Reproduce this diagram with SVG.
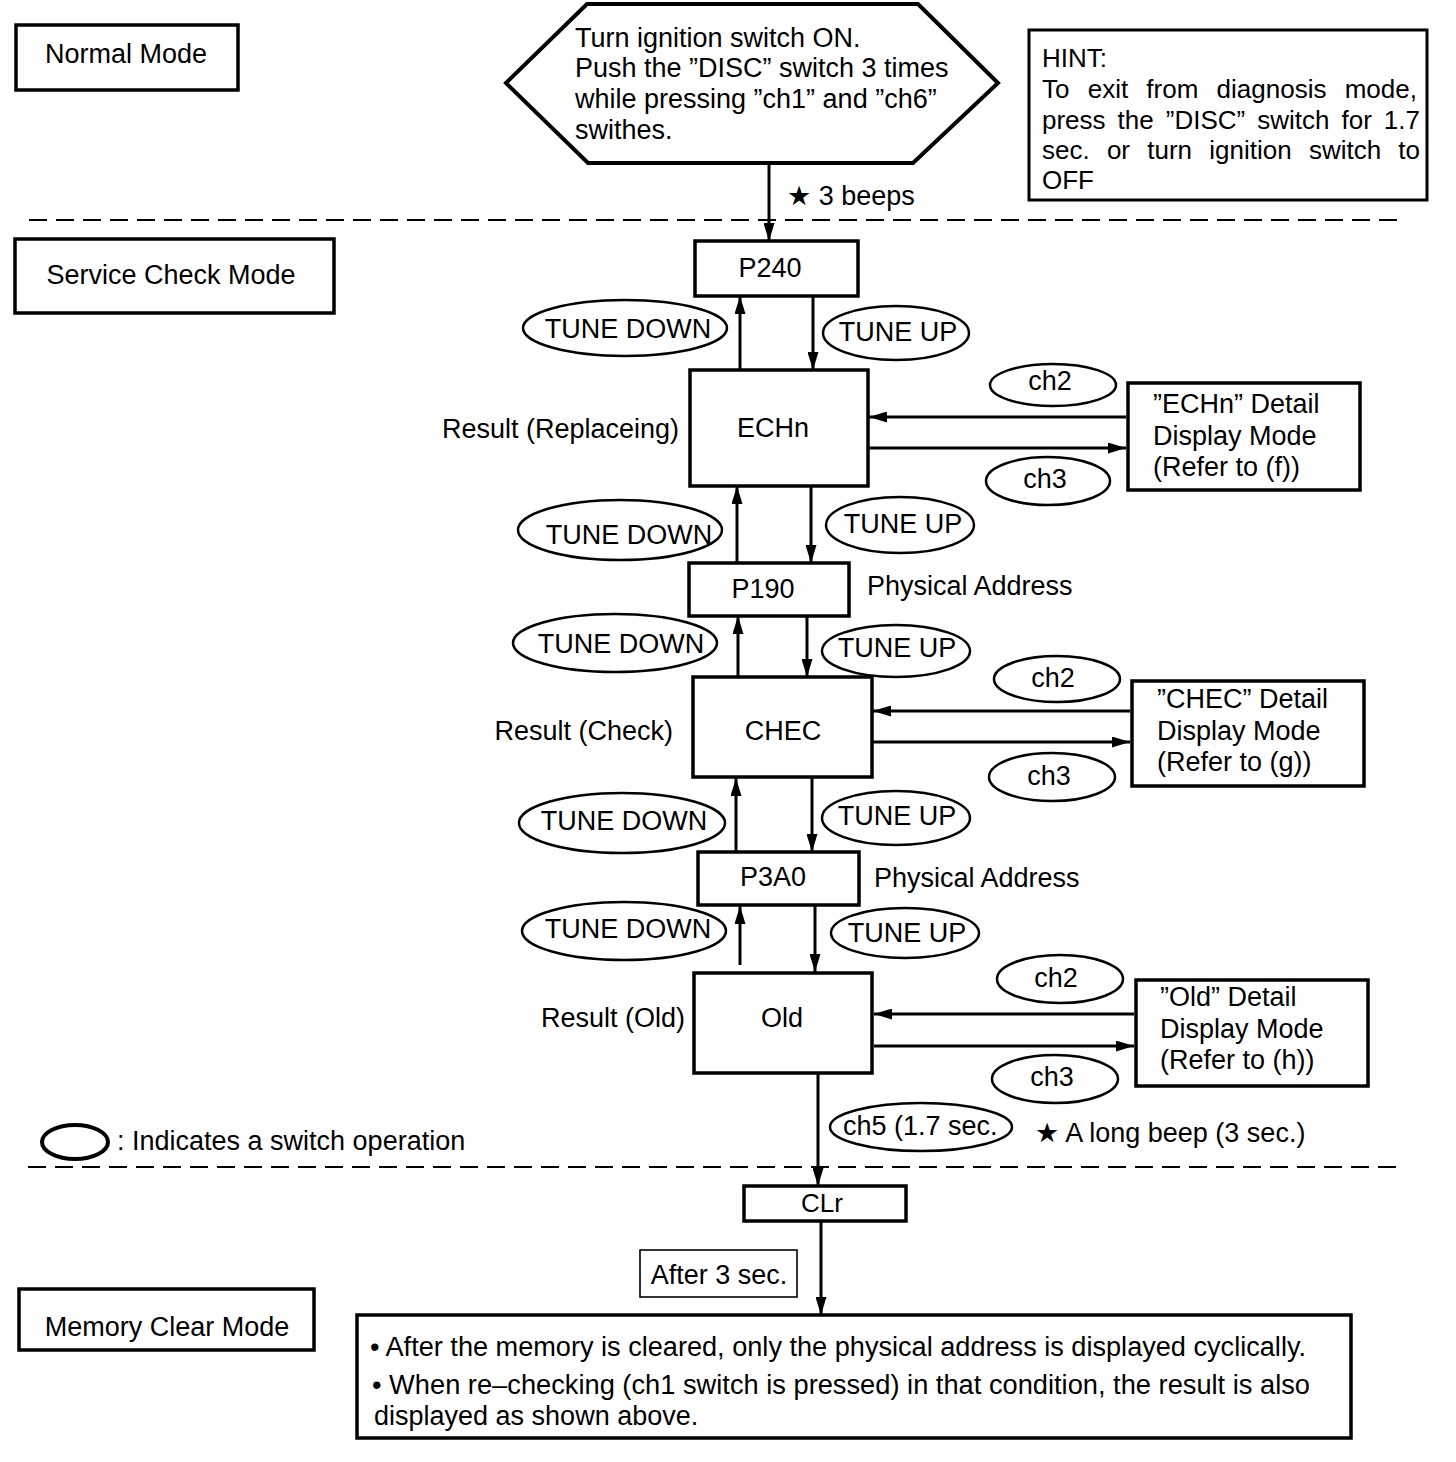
<svg xmlns="http://www.w3.org/2000/svg" width="1456" height="1462" viewBox="0 0 1456 1462">
<style>
  text { font-family: "Liberation Sans", Arial, "DejaVu Sans", sans-serif; font-size: 27px; fill: #000; }
  .c { text-anchor: middle; }
  .e { text-anchor: end; }
  .box { fill: #fff; stroke: #000; stroke-width: 3.5; }
  .thin { fill: #fff; stroke: #000; stroke-width: 1.6; }
  .ell { fill: none; stroke: #000; stroke-width: 2.5; }
  .conn { fill: none; stroke: #000; stroke-width: 3; }
  .dash { fill: none; stroke: #000; stroke-width: 2.2; stroke-dasharray: 18 9; }
</style>
<defs>
  <marker id="ah" viewBox="0 0 18 11" refX="18" refY="5.5" markerWidth="18" markerHeight="11" markerUnits="userSpaceOnUse" orient="auto">
    <path d="M0,0 L18,5.5 L0,11 z" fill="#000"/>
  </marker>
</defs>
<rect width="1456" height="1462" fill="#fff"/>

<!-- dividers -->
<g id="dividers">
  <line class="dash" x1="29" y1="220" x2="1405" y2="220"/>
  <line class="dash" x1="28" y1="1167" x2="1405" y2="1167"/>
</g>

<!-- connectors -->
<g id="connectors">
  <line class="conn" x1="769" y1="163" x2="769" y2="241" marker-end="url(#ah)"/>
  <line class="conn" x1="740" y1="370" x2="740" y2="296" marker-end="url(#ah)"/>
  <line class="conn" x1="813" y1="296" x2="813" y2="370" marker-end="url(#ah)"/>
  <line class="conn" x1="737" y1="563" x2="737" y2="486" marker-end="url(#ah)"/>
  <line class="conn" x1="811" y1="486" x2="811" y2="563" marker-end="url(#ah)"/>
  <line class="conn" x1="738" y1="677" x2="738" y2="616" marker-end="url(#ah)"/>
  <line class="conn" x1="807" y1="616" x2="807" y2="677" marker-end="url(#ah)"/>
  <line class="conn" x1="736" y1="852" x2="736" y2="778" marker-end="url(#ah)"/>
  <line class="conn" x1="812" y1="778" x2="812" y2="852" marker-end="url(#ah)"/>
  <line class="conn" x1="740" y1="965" x2="740" y2="906" marker-end="url(#ah)"/>
  <line class="conn" x1="815" y1="906" x2="815" y2="972" marker-end="url(#ah)"/>
  <line class="conn" x1="818" y1="1073" x2="818" y2="1186" marker-end="url(#ah)"/>
  <line class="conn" x1="821" y1="1221" x2="821" y2="1315" marker-end="url(#ah)"/>
  <line class="conn" x1="1126" y1="417" x2="869" y2="417" marker-end="url(#ah)"/>
  <line class="conn" x1="869" y1="448" x2="1126" y2="448" marker-end="url(#ah)"/>
  <line class="conn" x1="1130" y1="711" x2="873" y2="711" marker-end="url(#ah)"/>
  <line class="conn" x1="873" y1="742" x2="1130" y2="742" marker-end="url(#ah)"/>
  <line class="conn" x1="1134" y1="1014" x2="874" y2="1014" marker-end="url(#ah)"/>
  <line class="conn" x1="874" y1="1046" x2="1134" y2="1046" marker-end="url(#ah)"/>
</g>

<!-- connector labels (switch operations) -->
<g id="switch-labels">
  <ellipse class="ell" cx="625" cy="328" rx="102" ry="28"/><text class="c" x="628" y="338">TUNE DOWN</text>
  <ellipse class="ell" cx="896" cy="333" rx="73" ry="27"/><text class="c" x="898" y="341">TUNE UP</text>
  <ellipse class="ell" cx="620" cy="530" rx="102" ry="30"/><text class="c" x="629" y="544">TUNE DOWN</text>
  <ellipse class="ell" cx="900" cy="525" rx="74" ry="28"/><text class="c" x="903" y="533">TUNE UP</text>
  <ellipse class="ell" cx="615" cy="643" rx="102" ry="29"/><text class="c" x="621" y="653">TUNE DOWN</text>
  <ellipse class="ell" cx="896" cy="651" rx="74" ry="26"/><text class="c" x="897" y="657">TUNE UP</text>
  <ellipse class="ell" cx="622" cy="823" rx="103" ry="30"/><text class="c" x="624" y="830">TUNE DOWN</text>
  <ellipse class="ell" cx="896" cy="818" rx="74" ry="27"/><text class="c" x="897" y="825">TUNE UP</text>
  <ellipse class="ell" cx="624" cy="931" rx="102" ry="29"/><text class="c" x="628" y="938">TUNE DOWN</text>
  <ellipse class="ell" cx="905" cy="933" rx="74" ry="25"/><text class="c" x="907" y="942">TUNE UP</text>

  <ellipse class="ell" cx="1053" cy="385" rx="63" ry="21"/><text class="c" x="1050" y="390">ch2</text>
  <ellipse class="ell" cx="1048" cy="481" rx="62" ry="24"/><text class="c" x="1045" y="488">ch3</text>
  <ellipse class="ell" cx="1057" cy="679" rx="63" ry="23"/><text class="c" x="1053" y="687">ch2</text>
  <ellipse class="ell" cx="1052" cy="777" rx="63" ry="24"/><text class="c" x="1049" y="785">ch3</text>
  <ellipse class="ell" cx="1060" cy="979" rx="63" ry="24"/><text class="c" x="1056" y="987">ch2</text>
  <ellipse class="ell" cx="1055" cy="1079" rx="63" ry="24"/><text class="c" x="1052" y="1086">ch3</text>

  <ellipse class="ell" cx="921" cy="1127" rx="91" ry="24"/><text x="843" y="1135">ch5 (1.7 sec.</text>

  <text x="787" y="205">★ 3 beeps</text>
  <text x="1035" y="1142">★ A long beep (3 sec.)</text>
</g>

<!-- mode labels -->
<g id="normal-mode">
  <rect class="box" x="16" y="25" width="222" height="65"/>
  <text class="c" x="126" y="63">Normal Mode</text>
</g>
<g id="service-check-mode">
  <rect class="box" x="15" y="239" width="319" height="74"/>
  <text class="c" x="171" y="284">Service Check Mode</text>
</g>
<g id="memory-clear-mode">
  <rect class="box" x="19" y="1289" width="295" height="61"/>
  <text class="c" x="167" y="1336">Memory Clear Mode</text>
</g>

<!-- start hexagon -->
<g id="start">
  <polygon points="506,83 587,4 918,4 998,83 913,163 588,163" fill="#fff" stroke="#000" stroke-width="4"/>
  <text x="575" y="47">Turn ignition switch ON.</text>
  <text x="575" y="77">Push the ”DISC” switch 3 times</text>
  <text x="575" y="108">while pressing ”ch1” and ”ch6”</text>
  <text x="575" y="139">swithes.</text>
</g>

<!-- hint -->
<g id="hint">
  <rect x="1029" y="30" width="398" height="170" fill="#fff" stroke="#000" stroke-width="3"/>
  <text x="1042" y="67" style="font-size:26px">HINT:</text>
  <text x="1042" y="98" style="font-size:26px" word-spacing="11">To exit from diagnosis mode,</text>
  <text x="1042" y="129" style="font-size:26px" word-spacing="4.8">press the ”DISC” switch for 1.7</text>
  <text x="1042" y="159" style="font-size:26px" word-spacing="10">sec. or turn ignition switch to</text>
  <text x="1042" y="189" style="font-size:26px">OFF</text>
</g>

<!-- states -->
<g id="P240">
  <rect class="box" x="695" y="241" width="163" height="55"/>
  <text class="c" x="770" y="277">P240</text>
</g>
<g id="ECHn">
  <rect class="box" x="690" y="370" width="178" height="116"/>
  <text class="c" x="773" y="437">ECHn</text>
  <text class="e" x="679" y="438">Result (Replaceing)</text>
</g>
<g id="ECHn-detail">
  <rect class="box" x="1128" y="383" width="232" height="107"/>
  <text x="1153" y="413">”ECHn” Detail</text>
  <text x="1153" y="445">Display Mode</text>
  <text x="1153" y="476">(Refer to (f))</text>
</g>
<g id="P190">
  <rect class="box" x="689" y="563" width="160" height="53"/>
  <text class="c" x="763" y="598">P190</text>
  <text x="867" y="595">Physical Address</text>
</g>
<g id="CHEC">
  <rect class="box" x="693" y="677" width="179" height="100"/>
  <text class="c" x="783" y="740">CHEC</text>
  <text class="e" x="673" y="740">Result (Check)</text>
</g>
<g id="CHEC-detail">
  <rect class="box" x="1132" y="681" width="232" height="105"/>
  <text x="1157" y="708">”CHEC” Detail</text>
  <text x="1157" y="740">Display Mode</text>
  <text x="1157" y="771">(Refer to (g))</text>
</g>
<g id="P3A0">
  <rect class="box" x="698" y="852" width="161" height="53"/>
  <text class="c" x="773" y="886">P3A0</text>
  <text x="874" y="887">Physical Address</text>
</g>
<g id="Old">
  <rect class="box" x="694" y="973" width="178" height="100"/>
  <text class="c" x="782" y="1027">Old</text>
  <text class="e" x="685" y="1027">Result (Old)</text>
</g>
<g id="Old-detail">
  <rect class="box" x="1136" y="980" width="232" height="106"/>
  <text x="1160" y="1006">”Old” Detail</text>
  <text x="1160" y="1038">Display Mode</text>
  <text x="1160" y="1069">(Refer to (h))</text>
</g>

<!-- legend -->
<g id="legend">
  <ellipse cx="75" cy="1142" rx="33" ry="17" fill="none" stroke="#000" stroke-width="4"/>
  <text x="117" y="1150">: Indicates a switch operation</text>
</g>

<!-- memory clear -->
<g id="CLr">
  <rect class="box" x="744" y="1186" width="162" height="35"/>
  <text class="c" x="822" y="1212" style="font-size:26px">CLr</text>
</g>
<g id="after-3-sec">
  <rect class="thin" x="640" y="1250" width="157" height="47"/>
  <text class="c" x="719" y="1284">After 3 sec.</text>
</g>
<g id="memory-cleared">
  <rect class="box" x="357" y="1315" width="994" height="123"/>
  <text x="370" y="1356" textLength="936" lengthAdjust="spacingAndGlyphs">• After the memory is cleared, only the physical address is displayed cyclically.</text>
  <text x="372" y="1394" textLength="938" lengthAdjust="spacingAndGlyphs">• When re–checking (ch1 switch is pressed) in that condition, the result is also</text>
  <text x="374" y="1425">displayed as shown above.</text>
</g>
</svg>
